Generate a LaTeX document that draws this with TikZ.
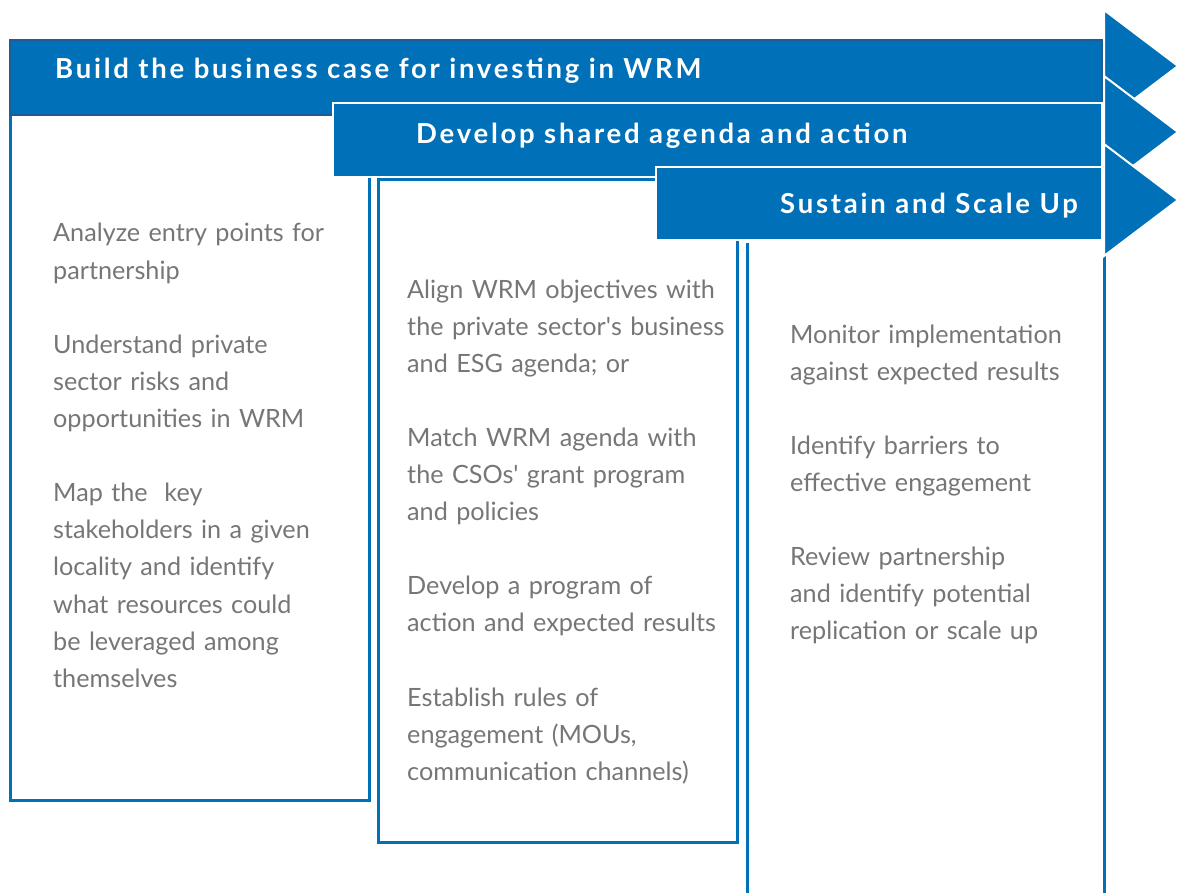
\documentclass[tikz,border=0pt]{standalone}
\usepackage{fontspec}
\setmainfont{Lato}
\newfontfamily\stagefont[LetterSpace=10]{Lato}
\usetikzlibrary{positioning}
\definecolor{wrmblue}{HTML}{0070B8}
\definecolor{wrmdark}{HTML}{1D5C99}
\definecolor{wrmgray}{HTML}{767676}
\tikzset{
  stage/.style={fill=wrmblue, draw=white, line width=2pt},
  column/.style={draw=wrmblue, line width=3pt},
  title/.style={text=white, font=\stagefont\bfseries\fontsize{27.5}{30}\selectfont, inner sep=0pt},
  items/.style={text=wrmgray, font=\fontsize{25.2}{37.1}\selectfont, align=left,
    inner sep=0pt, anchor=base west, text width=#1},
}
\begin{document}
\begin{tikzpicture}[x=1pt,y=-1pt]
\useasboundingbox (0,0) rectangle (1177,893);
\clip (0,0) rectangle (1177,893);

% outlines of the three columns
\draw[column] (10,115) rectangle (369,800);
\draw[column] (378,180) rectangle (737,842);
\draw[column] (747,243) -- (747,893);
\draw[column] (1104,240) -- (1104,893);

% stage banners
\filldraw[fill=wrmblue, draw=wrmdark, line width=1.5pt] (10,40) rectangle (1102,115);
\filldraw[stage] (333,103) rectangle (1102,177);
\filldraw[stage] (656,167) rectangle (1102,240);

% arrow heads
\filldraw[stage] (1104,10) -- (1178,66) -- (1104,122) -- cycle;
\filldraw[stage] (1104,76) -- (1178,132) -- (1104,188) -- cycle;
\filldraw[stage] (1104,144) -- (1178,200) -- (1104,256) -- cycle;

\node[title, anchor=base west] (build) at (55,79) {Build the business case for investing in WRM};
\node[title, anchor=base west] (agenda) at (416,144) {Develop shared agenda and action};
\node[title, anchor=base east] (scale) at (1078,214) {Sustain and Scale Up};

\node[items=340pt] (buildlist) at (53,242) {Analyze entry points for\\
  partnership\\[37.1pt]
  Understand private\\
  sector risks and\\
  opportunities in WRM\\[37.1pt]
  Map the\ \ key\\
  stakeholders in a given\\
  locality and identify\\
  what resources could\\
  be leveraged among\\
  themselves};
\node[items=350pt] (agendalist) at (407,298) {Align WRM objectives with\\
  the private sector\textquotesingle s business\\
  and ESG agenda; or\\[37.1pt]
  Match WRM agenda with\\
  the CSOs\textquotesingle\ grant program\\
  and policies\\[37.1pt]
  Develop a program of\\
  action and expected results\\[37.1pt]
  Establish rules of\\
  engagement (MOUs,\\
  communication channels)};
\node[items=330pt] (scalelist) at (790,343) {Monitor implementation\\
  against expected results\\[37.1pt]
  Identify barriers to\\
  effective engagement\\[37.1pt]
  Review partnership\\
  and identify potential\\
  replication or scale up};
\end{tikzpicture}
\end{document}
